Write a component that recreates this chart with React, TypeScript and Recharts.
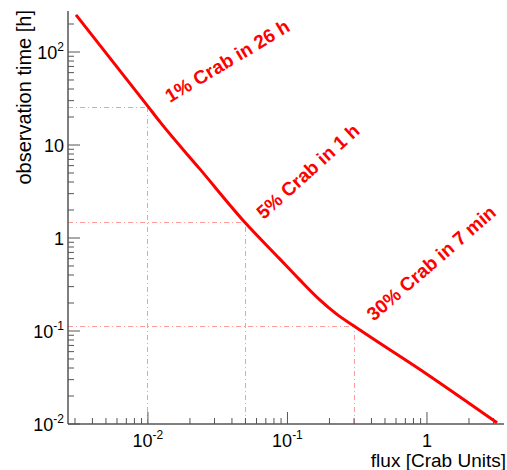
import { ComposedChart, Line, XAxis, YAxis, ReferenceLine, ReferenceDot } from "recharts";

// sensitivity curve
const fluxValues = [0.00305, 0.01, 0.0122, 0.0236, 0.05, 0.0877, 0.122, 0.169, 0.224, 0.3, 1, 3.18];
const hourValues = [251, 26, 17.7, 5.5, 1.45, 0.6, 0.357, 0.219, 0.153, 0.113, 0.0343, 0.0103];

// the three marked points
const markerFlux = [0.01, 0.05, 0.3];
const markerHours = [25.5, 1.45, 0.113];
const markerText = ["1% Crab in 26 h", "5% Crab in 1 h", "30% Crab in 7 min"];
// where each rotated note starts (data coords) and its angle
const noteFlux = [0.0144, 0.0675, 0.415];
const noteHours = [28.3, 1.56, 0.126];
const noteAngle = [31, 42, 41];

const xTicks = [
  0.003, 0.004, 0.005, 0.006, 0.007, 0.008, 0.009,
  0.01, 0.02, 0.03, 0.04, 0.05, 0.06, 0.07, 0.08, 0.09,
  0.1, 0.2, 0.3, 0.4, 0.5, 0.6, 0.7, 0.8, 0.9,
  1, 2, 3,
];
const yTicks = [
  0.01, 0.02, 0.03, 0.04, 0.05, 0.06, 0.07, 0.08, 0.09,
  0.1, 0.2, 0.3, 0.4, 0.5, 0.6, 0.7, 0.8, 0.9,
  1, 2, 3, 4, 5, 6, 7, 8, 9,
  10, 20, 30, 40, 50, 60, 70, 80, 90,
  100, 200,
];

const xDomain = [0.002673, 3.565];
const yDomain = [0.01, 276];

const data = fluxValues.map((f, i) => ({ flux: f, hours: hourValues[i] }));

const FONT = "'Liberation Sans', Arial, Helvetica, sans-serif";
const AXIS = "#555";
const RED = "#ff0000";
const DASH = "#ff9a9a";

const isMajor = (v: number) => Math.abs(Math.log10(v) - Math.round(Math.log10(v))) < 1e-6;

const powLabel = (v: number, x: number, y: number, anchor: "middle" | "end") => {
  const e = Math.round(Math.log10(v));
  if (e === 0) {
    return (
      <text x={x} y={y} textAnchor={anchor} fontFamily={FONT} fontSize={18} fill="#000">
        1
      </text>
    );
  }
  return (
    <text x={x} y={y} textAnchor={anchor} fontFamily={FONT} fontSize={18} fill="#000">
      <tspan>10</tspan>
      {e !== 1 && (
        <tspan dy={-8} fontSize={12}>
          {String(e)}
        </tspan>
      )}
    </text>
  );
};

const BottomTick = (p: any) => {
  const { x, y, payload } = p;
  const major = isMajor(payload.value);
  return (
    <g>
      <line x1={x} x2={x} y1={y} y2={y - (major ? 12 : 6)} stroke={AXIS} strokeWidth={1} />
      {major && powLabel(payload.value, x, y + 23, "middle")}
    </g>
  );
};

const TopTick = (p: any) => {
  const { x, y, payload } = p;
  const major = isMajor(payload.value);
  return <line x1={x} x2={x} y1={y} y2={y + (major ? 12 : 6)} stroke={AXIS} strokeWidth={1} />;
};

const LeftTick = (p: any) => {
  const { x, y, payload } = p;
  const major = isMajor(payload.value);
  return (
    <g>
      <line x1={x} x2={x + (major ? 12 : 6)} y1={y} y2={y} stroke={AXIS} strokeWidth={1} />
      {major && powLabel(payload.value, x - 4, y + 7, "end")}
    </g>
  );
};

const RightTick = (p: any) => {
  const { x, y, payload } = p;
  const major = isMajor(payload.value);
  return <line x1={x} x2={x - (major ? 12 : 6)} y1={y} y2={y} stroke={AXIS} strokeWidth={1} />;
};

const noteShape = (i: number) => (p: any) => (
  <text
    x={p.cx}
    y={p.cy}
    transform={`rotate(${-noteAngle[i]} ${p.cx} ${p.cy})`}
    fontFamily={FONT}
    fontSize={19}
    fontWeight="bold"
    fill={RED}
  >
    {markerText[i]}
  </text>
);

export default function App() {
  return (
    <div style={{ position: "absolute", left: 0, top: 0, width: 507, height: 470, background: "#fff" }}>
      <ComposedChart width={507} height={470} data={data} margin={{ top: 11, right: 3, bottom: 0, left: 8 }}>
        <XAxis
          xAxisId="b"
          dataKey="flux"
          type="number"
          scale="log"
          domain={xDomain}
          allowDataOverflow
          ticks={xTicks}
          interval={0}
          height={46}
          tickSize={0}
          tickMargin={0}
          tickLine={false}
          axisLine={{ stroke: AXIS, strokeWidth: 1.5 }}
          tick={BottomTick}
          label={{
            content: (lp: any) => (
              <text
                x={lp.viewBox.x + lp.viewBox.width + 2}
                y={lp.viewBox.y + 43}
                textAnchor="end"
                fontFamily={FONT}
                fontSize={19}
                fill="#000"
              >
                flux [Crab Units]
              </text>
            ),
          }}
        />
        <XAxis
          xAxisId="t"
          orientation="top"
          dataKey="flux"
          type="number"
          scale="log"
          domain={xDomain}
          allowDataOverflow
          ticks={xTicks}
          interval={0}
          height={0}
          tickSize={0}
          tickMargin={0}
          tickLine={false}
          axisLine={{ stroke: AXIS, strokeWidth: 1.5 }}
          tick={TopTick}
        />
        <YAxis
          yAxisId="l"
          dataKey="hours"
          type="number"
          scale="log"
          domain={yDomain}
          allowDataOverflow
          ticks={yTicks}
          interval={0}
          width={60}
          tickSize={0}
          tickMargin={0}
          tickLine={false}
          axisLine={{ stroke: AXIS, strokeWidth: 1.5 }}
          tick={LeftTick}
          label={{
            content: (lp: any) => {
              const tx = lp.viewBox.x + 23;
              const ty = lp.viewBox.y - 1;
              return (
                <text
                  x={tx}
                  y={ty}
                  transform={`rotate(-90 ${tx} ${ty})`}
                  textAnchor="end"
                  fontFamily={FONT}
                  fontSize={20}
                  fill="#000"
                >
                  observation time [h]
                </text>
              );
            },
          }}
        />
        <YAxis
          yAxisId="r"
          orientation="right"
          dataKey="hours"
          type="number"
          scale="log"
          domain={yDomain}
          allowDataOverflow
          ticks={yTicks}
          interval={0}
          width={0}
          tickSize={0}
          tickMargin={0}
          tickLine={false}
          axisLine={{ stroke: AXIS, strokeWidth: 1.5 }}
          tick={RightTick}
        />
        {markerFlux.map((f, i) => (
          <ReferenceLine
            key={`h${i}`}
            xAxisId="b"
            yAxisId="l"
            ifOverflow="visible"
            segment={[
              { x: xDomain[0], y: markerHours[i] },
              { x: f, y: markerHours[i] },
            ]}
            stroke={DASH}
            strokeWidth={1}
            strokeDasharray="5 3 1 3"
            shapeRendering="crispEdges"
          />
        ))}
        {markerFlux.map((f, i) => (
          <ReferenceLine
            key={`v${i}`}
            xAxisId="b"
            yAxisId="l"
            ifOverflow="visible"
            segment={[
              { x: f, y: yDomain[0] },
              { x: f, y: markerHours[i] },
            ]}
            stroke={DASH}
            strokeWidth={1}
            strokeDasharray="5 3 1 3"
            shapeRendering="crispEdges"
          />
        ))}
        <Line
          xAxisId="b"
          yAxisId="l"
          dataKey="hours"
          type="monotone"
          stroke={RED}
          strokeWidth={3}
          dot={false}
          isAnimationActive={false}
        />
        {markerText.map((_, i) => (
          <ReferenceDot
            key={`n${i}`}
            xAxisId="b"
            yAxisId="l"
            x={noteFlux[i]}
            y={noteHours[i]}
            r={0}
            ifOverflow="visible"
            shape={noteShape(i)}
          />
        ))}
      </ComposedChart>
    </div>
  );
}
